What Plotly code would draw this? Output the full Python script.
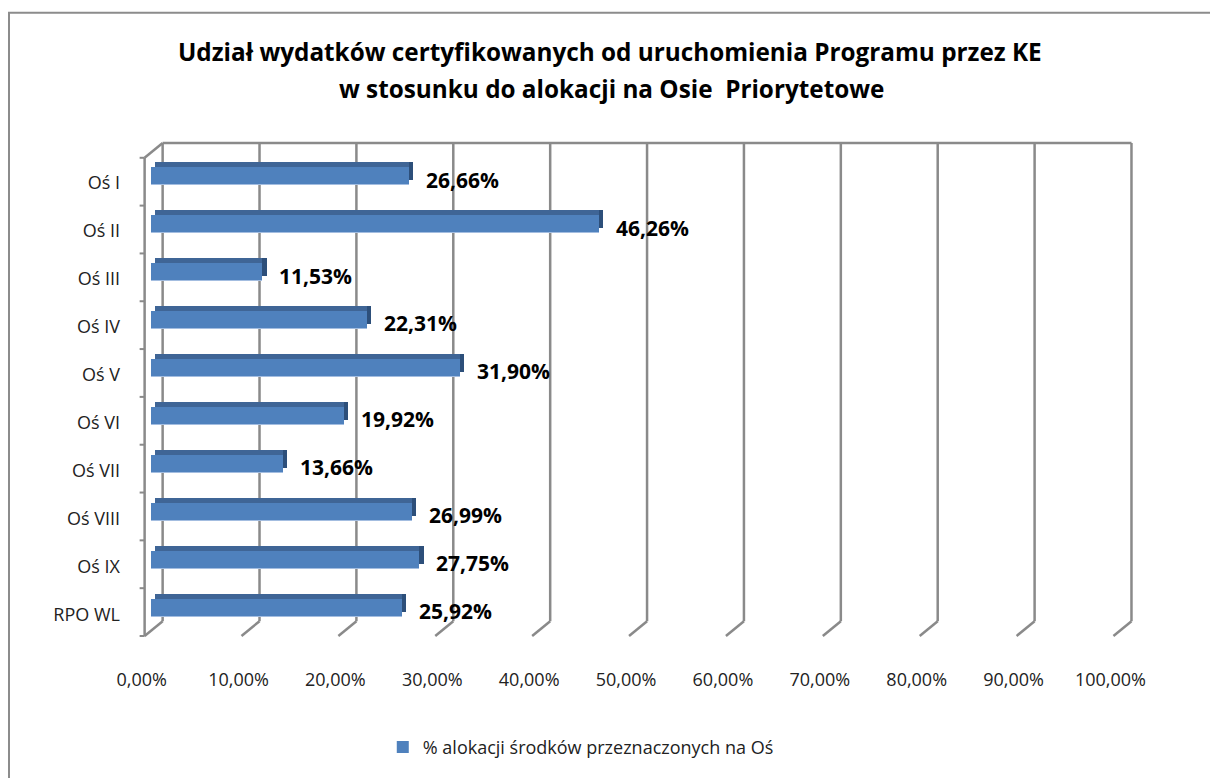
import plotly.graph_objects as go

categories = ["Oś I", "Oś II", "Oś III", "Oś IV", "Oś V", "Oś VI", "Oś VII", "Oś VIII", "Oś IX", "RPO WL"]
values = [0.2666, 0.4626, 0.1153, 0.2231, 0.3190, 0.1992, 0.1366, 0.2699, 0.2775, 0.2592]
tick_vals = [0, 0.1, 0.2, 0.3, 0.4, 0.5, 0.6, 0.7, 0.8, 0.9, 1.0]
series_name = "% alokacji środków przeznaczonych na Oś"
title_lines = ["Udział wydatków certyfikowanych od uruchomienia Programu przez KE",
               "w stosunku do alokacji na Osie  Priorytetowe"]

FRONT = "#4F81BD"
TOP = "#3F6596"
SIDE = "#2D4F7A"
EDGE = "#A3BDE0"
GRID = "#8A8A8A"
FONT = "Open Sans"

BAR_W = 0.37          # bar thickness in category units
DEPTH_X = 0.0045      # bar 3D depth (x data units)
DEPTH_Y = 0.09        # bar 3D depth (category units)
EDGE_W = 0.03         # light bottom edge thickness
WALL_BACK = 0.0124    # back wall shift (x data units)
WALL_FRONT = -0.0062  # front edge shift (x data units)
BACK_BOTTOM = 0.03    # paper y of back wall bottom
FRONT_TOP = 0.97      # paper y of left wall top

fig = go.Figure()

# top face
fig.add_trace(go.Bar(
    y=categories, x=values, base=[DEPTH_X] * len(values), orientation="h",
    width=BAR_W, offset=-BAR_W / 2 - DEPTH_Y, marker=dict(color=TOP, line=dict(width=0)),
    showlegend=False, hoverinfo="skip"))
# side face
fig.add_trace(go.Bar(
    y=categories, x=[DEPTH_X] * len(values), base=values, orientation="h",
    width=BAR_W, offset=-BAR_W / 2 - DEPTH_Y, marker=dict(color=SIDE, line=dict(width=0)),
    showlegend=False, hoverinfo="skip"))
# light bottom edge
fig.add_trace(go.Bar(
    y=categories, x=values, orientation="h",
    width=EDGE_W, offset=BAR_W / 2 - EDGE_W / 2, marker=dict(color=EDGE, line=dict(width=0)),
    showlegend=False, hoverinfo="skip"))
# front face
fig.add_trace(go.Bar(
    y=categories, x=values, orientation="h", name=series_name,
    width=BAR_W, marker=dict(color=FRONT, line=dict(width=0)),
    showlegend=True))

shapes = []
for v in tick_vals:
    shapes.append(dict(type="line", xref="x", yref="paper", x0=v + WALL_BACK, x1=v + WALL_BACK,
                       y0=BACK_BOTTOM, y1=1, line=dict(color=GRID, width=2.5), layer="below"))
    shapes.append(dict(type="line", xref="x", yref="paper", x0=v + WALL_BACK, x1=v + WALL_FRONT,
                       y0=BACK_BOTTOM, y1=0, line=dict(color=GRID, width=2.5), layer="below"))
shapes.append(dict(type="line", xref="x", yref="paper", x0=tick_vals[0] + WALL_BACK,
                   x1=tick_vals[-1] + WALL_BACK, y0=1, y1=1, line=dict(color=GRID, width=2.5), layer="below"))
shapes.append(dict(type="line", xref="x", yref="paper", x0=WALL_FRONT, x1=WALL_FRONT,
                   y0=0, y1=FRONT_TOP, line=dict(color=GRID, width=2.5), layer="below"))
shapes.append(dict(type="line", xref="x", yref="paper", x0=WALL_FRONT, x1=WALL_BACK,
                   y0=FRONT_TOP, y1=1, line=dict(color=GRID, width=2.5), layer="below"))
for k in range(len(categories) + 1):
    shapes.append(dict(type="line", xref="x", xsizemode="pixel", xanchor=WALL_FRONT, x0=-5, x1=0,
                       yref="paper", y0=FRONT_TOP * k / len(categories), y1=FRONT_TOP * k / len(categories),
                       line=dict(color=GRID, width=2)))

L, R, T, B = 139, 76, 143, 135
PW, PH = 1210 - L - R, 778 - T - B
shapes.append(dict(type="rect", xref="paper", yref="paper",
                   x0=(9 - L) / PW, x1=(1240 - L) / PW,
                   y0=-(800 - (778 - B)) / PH, y1=(778 - B - 11) / PH,
                   line=dict(color="#8C8C8C", width=2), fillcolor="rgba(0,0,0,0)"))

annotations = []
for c, v in zip(categories, values):
    annotations.append(dict(x=v, y=c, xref="x", yref="y", xanchor="left", yanchor="middle",
                            xshift=15, yshift=-4, showarrow=False,
                            text=(f"{v*100:.2f}%").replace(".", ","),
                            font=dict(family=FONT, size=21, color="#000000", weight="bold")))
# second title line
annotations.append(dict(x=(611 - L) / PW, xref="paper", y=(778 - B - 88) / PH, yref="paper",
                        xanchor="center", yanchor="middle", showarrow=False, text=title_lines[1],
                        font=dict(family=FONT, size=24.3, color="#000000", weight="bold")))

fig.update_layout(
    width=1210, height=778,
    margin=dict(l=L, r=R, t=T, b=B),
    paper_bgcolor="white", plot_bgcolor="rgba(0,0,0,0)",
    separators=", ",
    barmode="overlay",
    bargap=0,
    title=dict(text=title_lines[0], x=0.504, xanchor="center", y=1 - 52 / 778, yanchor="middle",
               font=dict(family=FONT, size=24.3, color="#000000", weight="bold")),
    xaxis=dict(range=[-0.012, 1.015], tickvals=tick_vals, tickformat=".2%", showgrid=False,
               zeroline=False, showline=False, ticks="", ticklabelshift=-9, ticklabelstandoff=31,
               tickfont=dict(family=FONT, size=18, color="#222222")),
    yaxis=dict(range=[9.596, -0.678], type="category", categoryorder="array", categoryarray=categories,
               showgrid=False, zeroline=False, showline=False, ticks="", ticklabelstandoff=18,
               ticklabelshift=-7, tickfont=dict(family=FONT, size=18, color="#222222")),
    legend=dict(orientation="h", x=0.444, xanchor="center", y=-0.226, yanchor="middle",
                font=dict(family=FONT, size=18, color="#222222")),
    shapes=shapes,
    annotations=annotations,
)

fig.write_html("out.html", config={"displayModeBar": False},
               post_script="document.body.style.margin='0';document.body.style.overflow='hidden';")
